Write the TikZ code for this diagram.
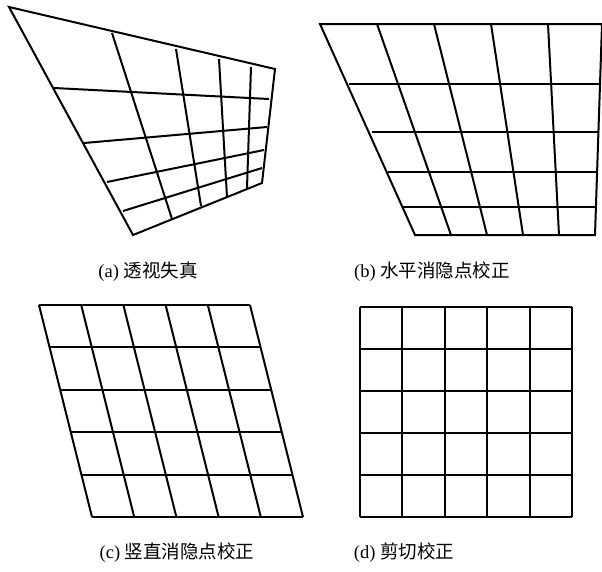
\documentclass[tikz,border=0pt]{standalone}
\usepackage{fontspec}
\setmainfont{Liberation Serif}
\newfontfamily\cjk{Noto Sans CJK SC}
\usepackage{tikz}

\begin{document}
\begin{tikzpicture}[x=1pt, y=-1pt, gridline/.style={line width=2pt},
		caption/.style={font=\fontsize{18.5}{20}\selectfont}]
		
		\useasboundingbox (0,0) rectangle (602,571);
		
		% --- (a) 透视失真 ---
		\draw[gridline] (9,7) -- (275,69) -- (262,183) -- (133,235) -- cycle;
		% 竖线：上边分点 -> 下边分点
		\foreach \xa/\ya/\xb/\yb in {112/33/172/219, 176/49/201/206, 219/59/227/197, 251/67/247/188}
			\draw[gridline] (\xa,\ya) -- (\xb,\yb);
		% 横线：左边分点 -> 右边分点
		\foreach \xa/\ya/\xb/\yb in {54/88/269/99, 84/143/267/127, 107/182/264/150, 123/211/262/168}
			\draw[gridline] (\xa,\ya) -- (\xb,\yb);
		\node[caption] (capA) at (148,272) {(a) {\cjk 透视失真}};
		
		% --- (b) 水平消隐点校正 ---
		\draw[gridline] (320,24) -- (602,24) -- (595,235) -- (415,235) -- cycle;
		\foreach \xa/\xb in {377/451, 434/487, 491/523, 548/559}
			\draw[gridline] (\xa,24) -- (\xb,235);
		\foreach \y/\xa/\xb in {84/349/600, 132/372/598.4, 172/388/597, 207/403/596}
			\draw[gridline] (\xa,\y) -- (\xb,\y);
		\node[caption] (capB) at (432,272) {(b) {\cjk 水平消隐点校正}};
		
		% --- (c) 竖直消隐点校正 ---
		\foreach \i in {0,...,5}
			\draw[gridline] ({39+42.2*\i},305) -- ({92+42.2*\i},517);
		\foreach \j in {0,...,5}
			\draw[gridline] ({39+10.6*\j},{305+42.4*\j}) -- ({250+10.6*\j},{305+42.4*\j});
		\node[caption] (capC) at (177,553) {(c) {\cjk 竖直消隐点校正}};
		
		% --- (d) 剪切校正 ---
		\foreach \i in {0,...,5} {
			\draw[gridline] ({360+42.4*\i},307) -- ({360+42.4*\i},517);
			\draw[gridline] (360,{307+42*\i}) -- (572,{307+42*\i});
		}
		\node[caption] (capD) at (404,553) {(d) {\cjk 剪切校正}};
		
	\end{tikzpicture}
\end{document}
